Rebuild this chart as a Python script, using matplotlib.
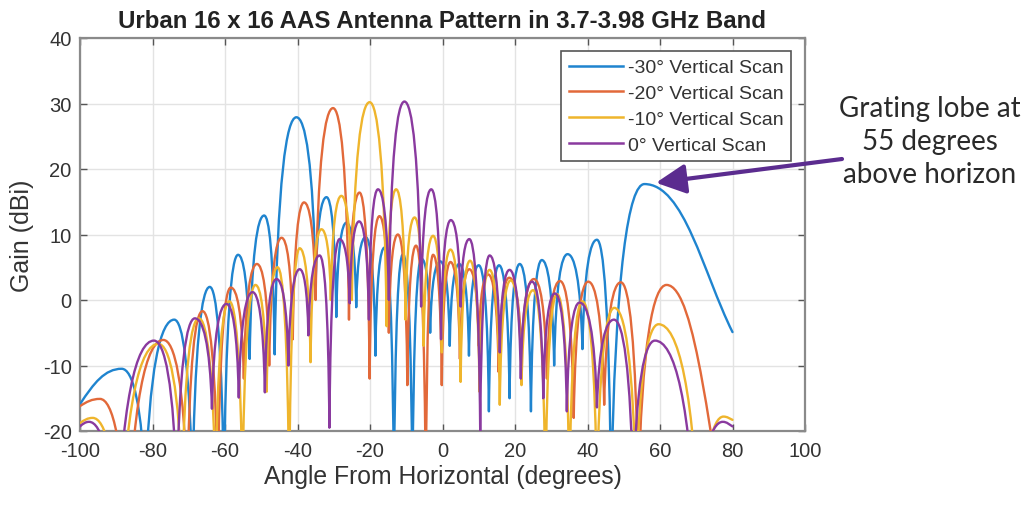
import matplotlib
matplotlib.use("Agg")
import matplotlib.pyplot as plt
from matplotlib.path import Path
from matplotlib.patches import PathPatch
from matplotlib.lines import Line2D

# pattern nodes: start, then lobe peak / null alternating, then end
# angle in degrees, gain in dBi (nulls below -20 are clipped by the axes)
blue_deg = [-100, -88.5, -82.0, -74.0, -69.0, -64.2, -60.3, -56.4, -53.2, -49.2, -46.3,
            -40.3, -35.0, -32.0, -29.3, -26.5, -23.8, -21.2, -18.5, -16.0, -13.4, -10.9,
            -8.3, -5.8, -3.4, -0.6, 2.0, 4.6, 7.3, 10.0, 12.8, 15.6, 18.5, 21.3, 24.4,
            27.4, 30.8, 34.5, 38.6, 42.6, 46.5, 55.7, 80]
blue_gain = [-15.9, -10.5, -30, -3.0, -30, 2.0, -30, 6.9, -9.0, 12.9, -8.3,
             27.9, 2.0, 15.7, -2.6, 11.8, -1.1, 9.6, -8.5, 8.0, -30, 7.0,
             -30, 6.3, -5, 5.9, -7, 5.5, -8.5, 5.3, -17, 5.3, -15, 5.5, -17,
             6.1, -10, 7.0, -7.5, 9.2, -30, 17.7, -4.9]

red_deg = [-100, -94.5, -87.0, -77.0, -70.4, -66.2, -62.0, -58.4, -54.8, -51.2, -47.8,
           -44.4, -41.3, -38.2, -35.0, -30.2, -25.8, -22.9, -20.1, -17.4, -14.8, -12.3,
           -9.7, -7.3, -4.6, -2.6, -0.2, 2.2, 4.8, 7.4, 10.0, 12.6, 15.5, 18.4, 21.8,
           25.2, 28.8, 32.4, 36.2, 40.2, 44.6, 49.2, 54.0, 61.8, 80]
red_gain = [-16.2, -15.1, -40, -6.1, -30, -1.7, -30, 1.9, -12, 5.5, -10,
            9.5, -6, 14.9, 0, 29.3, -3, 16.4, -12, 12.8, -5, 10.0,
            -13, 8.3, -30, 6.9, -13, 5.8, -9, 4.7, -7, 3.9, -11, 3.4, -9,
            3.2, -12, 2.9, -18, 2.8, -16, 2.7, -30, 2.3, -40]

yellow_deg = [-100, -96.5, -89.0, -78.4, -71.8, -67.2, -62.6, -58.8, -55.2, -51.6, -48.5,
              -45.5, -42.3, -39.4, -36.4, -33.4, -30.8, -27.9, -25.0, -20.1, -15.4, -12.8,
              -10.2, -7.7, -5.2, -2.6, -0.2, 2.2, 5.0, 7.6, 10.2, 13.0, 15.8, 18.8, 21.8,
              25.0, 28.4, 31.6, 35.0, 38.6, 42.6, 47.4, 53.4, 59.6, 71.0, 77.5, 80]
yellow_gain = [-18.8, -18.0, -40, -6.7, -30, -2.8, -30, -0.2, -30, 2.3, -14,
               5.0, -30, 7.9, -9.5, 10.8, 0, 15.9, 0, 30.2, -4, 16.9,
               -3, 12.6, -7, 9.8, -8, 7.7, -12.5, 6.0, -14, 4.6, -16, 3.0, -13,
               1.5, -30, 0.9, -30, -0.2, -30, -1.2, -30, -3.7, -40, -17.8, -18.3]

purple_deg = [-100, -97.5, -90.0, -79.6, -73.3, -68.3, -63.6, -59.6, -56.2, -52.4, -49.0,
              -45.8, -42.5, -39.4, -37.0, -33.9, -31.2, -28.4, -25.6, -23.0, -20.3, -17.8,
              -14.8, -10.5, -5.9, -3.1, -0.4, 2.3, 5.0, 7.4, 10.4, 13.0, 15.8, 18.5, 21.6,
              24.7, 27.8, 31.0, 34.3, 37.8, 42.6, 47.3, 52.6, 58.6, 70.0, 77.3, 80]
purple_gain = [-19.3, -18.6, -40, -6.2, -30, -2.8, -16.6, -0.6, -14.9, 1.2, -14.1,
               3.2, -10, 4.7, -5.4, 6.8, -19.5, 9.3, -0.5, 12.0, -3, 16.9,
               0, 30.3, -1, 16.9, -6, 12.2, -1, 9.3, -20, 6.8, -8, 4.6, -12,
               2.8, -15, 1.0, -17, -0.4, -16.4, -3.0, -30, -6.2, -40, -18.6, -19.3]

labels = ["-30° Vertical Scan", "-20° Vertical Scan", "-10° Vertical Scan", "0° Vertical Scan"]
colors = ["#1f84cf", "#e2693a", "#efb52c", "#8a3a9f"]
x_ticks = [-100, -80, -60, -40, -20, 0, 20, 40, 60, 80, 100]
y_ticks = [-20, -10, 0, 10, 20, 30, 40]


def lobe_path(deg, gain):
    # smooth lobes between the read nodes: flat at peaks, steep into nulls
    verts = [(deg[0], gain[0])]
    codes = [Path.MOVETO]
    last = len(deg) - 1
    for i in range(last):
        x0, y0 = deg[i], gain[i]
        x1, y1 = deg[i + 1], gain[i + 1]
        w = x1 - x0
        if i == 0:
            c1 = (x0 + w / 3, y0 + 0.6 * (y1 - y0))
            c2 = (x1 - 0.4 * w, y1)
        elif i + 1 == last:
            c1 = (x0 + 0.45 * w, y0)
            c2 = (x1 - w / 3, y1 + 0.4 * (y0 - y1))
        elif i % 2 == 1:
            c1 = (x0 + 0.45 * w, y0)
            c2 = (x1 - 0.12 * w, y1 + 0.75 * (y0 - y1))
        else:
            c1 = (x0 + 0.12 * w, y0 + 0.75 * (y1 - y0))
            c2 = (x1 - 0.45 * w, y1)
        verts += [c1, c2, (x1, y1)]
        codes += [Path.CURVE4] * 3
    return Path(verts, codes)


plt.rcParams['font.family'] = ['Liberation Sans', 'DejaVu Sans']
plt.rcParams['axes.unicode_minus'] = False

fig = plt.figure(figsize=(10.32, 5.06), dpi=100)
ax = fig.add_axes([80 / 1032, 1 - 432 / 506, 725 / 1032, 393 / 506])

series = [(blue_deg, blue_gain), (red_deg, red_gain), (yellow_deg, yellow_gain), (purple_deg, purple_gain)]
for (d, g), c in zip(series, colors):
    ax.add_patch(PathPatch(lobe_path(d, g), facecolor='none', edgecolor=c, lw=1.7,
                           joinstyle='round', capstyle='round', zorder=3))

ax.set_xlim(-100, 100)
ax.set_ylim(-20, 40)
ax.set_xticks(x_ticks)
ax.set_yticks(y_ticks)
ax.grid(True, color='#e3e3e3', lw=1.0, zorder=0)
ax.set_axisbelow(True)
ax.tick_params(direction='in', length=5, width=1, color='#555555', top=True, right=True,
               labelsize=14.5, labelcolor='#333333')
ax.tick_params(axis='x', pad=7)
ax.tick_params(axis='y', pad=6)
for s in ax.spines.values():
    s.set_color('#8a8a8a')
    s.set_linewidth(1.6)

ax.set_xlabel("Angle From Horizontal (degrees)", fontsize=17.8, color='#333333', labelpad=3)
ax.set_ylabel("Gain (dBi)", fontsize=18, color='#333333', labelpad=6)
ax.set_title("Urban 16 x 16 AAS Antenna Pattern in 3.7-3.98 GHz Band", fontsize=17.3,
             fontweight='bold', color='#222222', pad=8)

handles = [Line2D([], [], color=c, lw=1.8) for c in colors]
leg = ax.legend(handles, labels, loc='upper right', bbox_to_anchor=(0.981, 0.967),
                borderaxespad=0, fontsize=14, handlelength=2.8, handletextpad=0.25,
                labelspacing=0.42, borderpad=0.4, fancybox=False, framealpha=1,
                edgecolor='#555555')
leg.get_frame().set_linewidth(1.2)
for t in leg.get_texts():
    t.set_color('#333333')

# grating lobe callout
peak_deg, peak_gain = blue_deg[-2], blue_gain[-2]
ax.annotate('', xy=(peak_deg + 3.2, peak_gain + 0.2), xytext=(842 / 1032, 1 - 160 / 506),
            textcoords='figure fraction', annotation_clip=False,
            arrowprops=dict(arrowstyle='-|>,head_length=0.9,head_width=0.45', color='#5b2c8f',
                            lw=3, shrinkA=0, shrinkB=0, mutation_scale=20))
fig.text(930 / 1032, 1 - 142 / 506, "Grating lobe at\n55 degrees\nabove horizon",
         ha='center', va='center', fontsize=20, linespacing=1.35, color='#2a2a2a',
         family=['Lato', 'DejaVu Sans'], fontweight='normal')

fig.savefig("out.png", dpi=100)
